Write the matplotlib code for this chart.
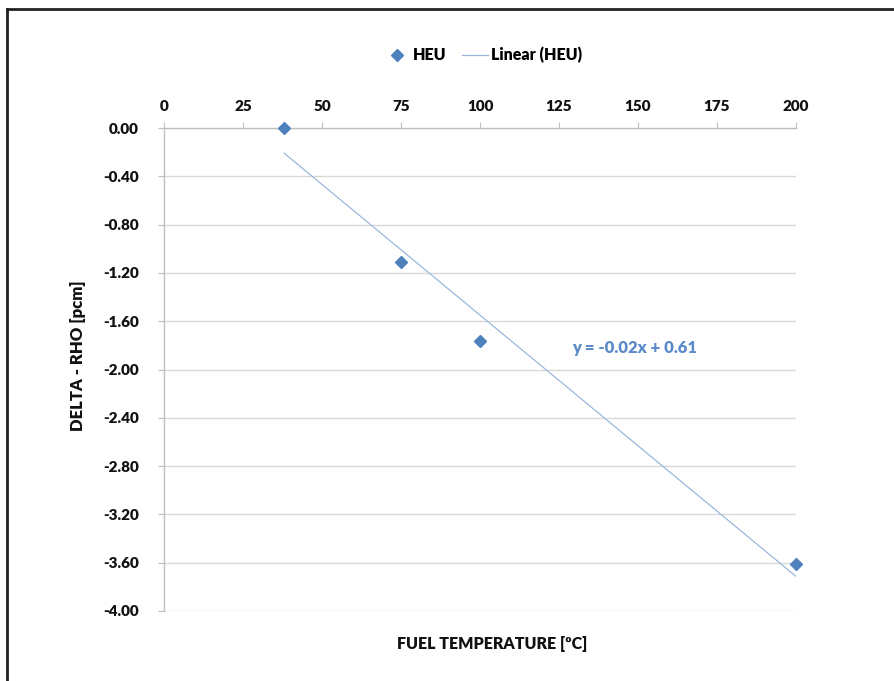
import numpy as np
import matplotlib
matplotlib.use("Agg")
import matplotlib.pyplot as plt
from matplotlib.lines import Line2D

# Data
temperature = [38, 75, 100, 200]
delta_rho = [0.00, -1.11, -1.76, -3.61]
x_ticks = [0, 25, 50, 75, 100, 125, 150, 175, 200]
y_ticks = [0.00, -0.40, -0.80, -1.20, -1.60, -2.00, -2.40, -2.80, -3.20, -3.60, -4.00]
series_name = "HEU"
trend_name = "Linear (HEU)"
x_label = "FUEL TEMPERATURE [ºC]"
y_label = "DELTA - RHO [pcm]"

WEIGHT = 'heavy'
plt.rcParams['font.family'] = ['Lato', 'DejaVu Sans']
plt.rcParams['font.weight'] = WEIGHT

W, H = 894, 681
fig = plt.figure(figsize=(W / 100, H / 100), dpi=100)
ax = fig.add_axes([164 / W, 1 - 611 / H, (796 - 164) / W, (611 - 128) / H])

marker_color = '#4F81BD'
trend_color = '#9BB7DD'
grid_color = '#D9D9D9'
axis_color = '#BFBFBF'
text_color = '#111111'

# Trendline (linear fit)
slope, intercept = np.polyfit(temperature, delta_rho, 1)
tx = np.array([min(temperature), max(temperature)])
ax.plot(tx, slope * tx + intercept, color=trend_color, lw=0.9, zorder=2, label=trend_name)
ax.plot(temperature, delta_rho, linestyle='none', marker='D', ms=6.5,
        color=marker_color, zorder=3, label=series_name, clip_on=False)

ax.set_xlim(0, 200)
ax.set_ylim(-4.0, 0.0)
ax.set_xticks(x_ticks)
ax.set_yticks(y_ticks)
ax.set_yticklabels([f"{v:.2f}" for v in y_ticks])
ax.xaxis.tick_top()
ax.tick_params(axis='x', direction='out', length=4, color=axis_color, pad=6.5,
               labelsize=11, labelcolor=text_color)
ax.tick_params(axis='y', direction='out', length=4, color=axis_color, pad=14,
               labelsize=11, labelcolor=text_color)
for lbl in ax.get_xticklabels() + ax.get_yticklabels():
    lbl.set_fontweight(WEIGHT)

ax.grid(axis='y', color=grid_color, lw=1.0)
ax.set_axisbelow(True)
for s in ['right', 'bottom']:
    ax.spines[s].set_visible(False)
for s in ['top', 'left']:
    ax.spines[s].set_color(axis_color)
    ax.spines[s].set_linewidth(1.0)

ax.text(0.646, 0.545, f"y = {slope:.2f}x + {intercept:.2f}", transform=ax.transAxes,
        color='#5B8BC9', fontsize=12, fontweight=WEIGHT, ha='left', va='center')

fig.text(492 / W, 1 - 644 / H, x_label, ha='center', va='center',
         fontsize=11.5, fontweight=WEIGHT, color=text_color)
fig.text(78 / W, 1 - 356 / H, y_label, ha='center', va='center', rotation=90,
         fontsize=12, fontweight=WEIGHT, color=text_color)

handles, labels = ax.get_legend_handles_labels()
order = [1, 0]
leg = fig.legend([handles[i] for i in order], [labels[i] for i in order],
                 loc='center', bbox_to_anchor=(483 / W, 1 - 55 / H), ncol=2,
                 frameon=False, fontsize=11.5, handlelength=1.6, columnspacing=1.0,
                 handletextpad=0.2)
for t in leg.get_texts():
    t.set_fontweight(WEIGHT)

# figure border (top and left visible)
fig.add_artist(Line2D([7 / W, 1.0], [1 - 9 / H, 1 - 9 / H], transform=fig.transFigure,
                      color='#222222', lw=2.0))
fig.add_artist(Line2D([7 / W, 7 / W], [0.0, 1 - 9 / H], transform=fig.transFigure,
                      color='#222222', lw=2.0))

fig.savefig("out.png", dpi=100)
